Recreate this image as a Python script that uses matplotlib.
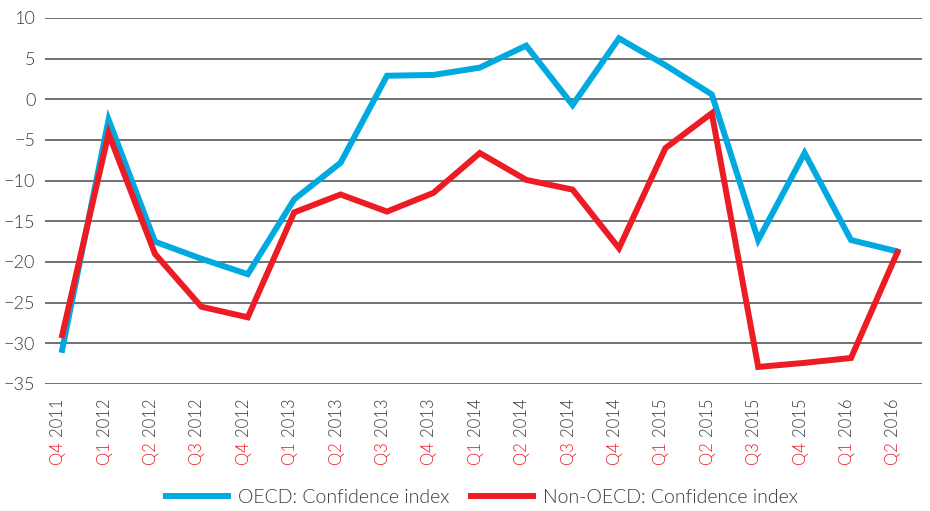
import matplotlib
matplotlib.use("Agg")
import matplotlib.pyplot as plt
import matplotlib.transforms as mtransforms

plt.rcParams['font.family'] = ['Lato', 'DejaVu Sans']

quarters = ['Q4', 'Q1', 'Q2', 'Q3', 'Q4', 'Q1', 'Q2', 'Q3', 'Q4',
            'Q1', 'Q2', 'Q3', 'Q4', 'Q1', 'Q2', 'Q3', 'Q4', 'Q1', 'Q2']
years = ['2011', '2012', '2012', '2012', '2012', '2013', '2013', '2013', '2013',
         '2014', '2014', '2014', '2014', '2015', '2015', '2015', '2015', '2016', '2016']

oecd = [-30.8, -2.5, -17.5, -19.6, -21.5, -12.3, -7.8, 2.9, 3.0,
        3.9, 6.6, -0.7, 7.5, 4.2, 0.6, -17.3, -6.6, -17.3, -18.7]
non_oecd = [-29.0, -4.2, -19.0, -25.5, -26.8, -13.9, -11.7, -13.8, -11.5,
            -6.6, -9.9, -11.1, -18.3, -6.0, -1.7, -32.9, -32.4, -31.8, -18.8]

BLUE, RED = '#00a9e0', '#ed1c24'
GRID, TXT = '#4a4a4a', '#3a3a3a'
W = 300  # Lato Light

fig = plt.figure(figsize=(9.3, 5.11), dpi=100)
ax = fig.add_axes([45 / 930, 1 - 384 / 511, 877 / 930, 366 / 511])

x = list(range(len(oecd)))
ax.plot(x, oecd, color=BLUE, lw=4.3, solid_joinstyle='miter', label='OECD: Confidence index', zorder=3)
ax.plot(x, non_oecd, color=RED, lw=4.3, solid_joinstyle='miter', label='Non-OECD: Confidence index', zorder=4)

ax.set_ylim(-35, 10)
ax.set_xlim(-0.37, len(x) - 1 + 0.53)
ax.set_yticks(range(-35, 11, 5))
ax.yaxis.grid(True, color=GRID, lw=1.1)
ax.set_axisbelow(True)
for s in ax.spines.values():
    s.set_visible(False)
ax.tick_params(axis='y', length=0, pad=7, labelsize=13, labelcolor=TXT)
ax.tick_params(axis='x', length=0)
ax.set_xticks(x)
ax.set_xticklabels([])
for lab in ax.get_yticklabels():
    lab.set_fontweight(W)

# two-coloured rotated tick labels: year in dark grey, quarter in red
base = ax.get_xaxis_transform()
t_year = mtransforms.offset_copy(base, fig=fig, x=0, y=-14, units='dots')
t_q = mtransforms.offset_copy(base, fig=fig, x=0, y=-57, units='dots')
for i in x:
    ax.text(i, 0, years[i], transform=t_year, rotation=90, rotation_mode='anchor',
            ha='right', va='baseline', fontsize=12, color=TXT, fontweight=W)
    ax.text(i, 0, quarters[i], transform=t_q, rotation=90, rotation_mode='anchor',
            ha='right', va='baseline', fontsize=12, color=RED, fontweight=W)

leg = fig.legend(loc='center', bbox_to_anchor=(482 / 930, 1 - 497 / 511), ncol=2,
                 frameon=False, fontsize=14, handlelength=3.2, handletextpad=0.5,
                 columnspacing=1.1)
for t in leg.get_texts():
    t.set_color(TXT)
    t.set_fontweight(W)

fig.savefig('out.png', dpi=100)
